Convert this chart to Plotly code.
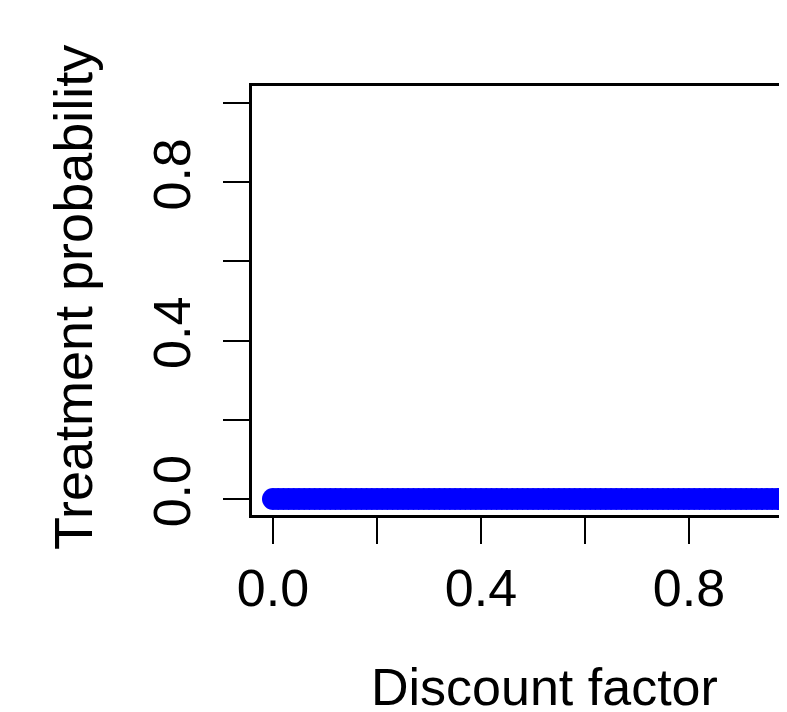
import plotly.graph_objects as go

# Data: discount factor grid and the resulting treatment probability
discount_factor = [
    0.00, 0.01, 0.02, 0.03, 0.04, 0.05, 0.06, 0.07, 0.08, 0.09,
    0.10, 0.11, 0.12, 0.13, 0.14, 0.15, 0.16, 0.17, 0.18, 0.19,
    0.20, 0.21, 0.22, 0.23, 0.24, 0.25, 0.26, 0.27, 0.28, 0.29,
    0.30, 0.31, 0.32, 0.33, 0.34, 0.35, 0.36, 0.37, 0.38, 0.39,
    0.40, 0.41, 0.42, 0.43, 0.44, 0.45, 0.46, 0.47, 0.48, 0.49,
    0.50, 0.51, 0.52, 0.53, 0.54, 0.55, 0.56, 0.57, 0.58, 0.59,
    0.60, 0.61, 0.62, 0.63, 0.64, 0.65, 0.66, 0.67, 0.68, 0.69,
    0.70, 0.71, 0.72, 0.73, 0.74, 0.75, 0.76, 0.77, 0.78, 0.79,
    0.80, 0.81, 0.82, 0.83, 0.84, 0.85, 0.86, 0.87, 0.88, 0.89,
    0.90, 0.91, 0.92, 0.93, 0.94, 0.95, 0.96, 0.97, 0.98, 0.99,
    1.00,
]
treatment_probability = [
    0, 0, 0, 0, 0, 0, 0, 0, 0, 0,
    0, 0, 0, 0, 0, 0, 0, 0, 0, 0,
    0, 0, 0, 0, 0, 0, 0, 0, 0, 0,
    0, 0, 0, 0, 0, 0, 0, 0, 0, 0,
    0, 0, 0, 0, 0, 0, 0, 0, 0, 0,
    0, 0, 0, 0, 0, 0, 0, 0, 0, 0,
    0, 0, 0, 0, 0, 0, 0, 0, 0, 0,
    0, 0, 0, 0, 0, 0, 0, 0, 0, 0,
    0, 0, 0, 0, 0, 0, 0, 0, 0, 0,
    0, 0, 0, 0, 0, 0, 0, 0, 0, 0,
    0,
]

x_major_ticks = [0.0, 0.4, 0.8]
x_major_labels = ["0.0", "0.4", "0.8"]
x_minor_ticks = [0.2, 0.6]
y_major_ticks = [0.0, 0.4, 0.8]
y_major_labels = ["0.0", "0.4", "0.8"]
y_minor_ticks = [0.2, 0.6, 1.0]

FONT = "Liberation Sans, Arial, Helvetica, sans-serif"
FS = 52

# The page body has an 8px margin, so the figure is sized/offset accordingly.
W, H = 779, 704
L, T, B = 244, 78, 197
PW = W - L          # plot width in px
PH = H - T - B      # plot height in px

fig = go.Figure()
fig.add_trace(go.Scatter(
    x=discount_factor, y=treatment_probability, mode="markers",
    marker=dict(color="#0000FF", size=22, line=dict(width=0)),
    showlegend=False, hoverinfo="skip",
))

axis_common = dict(
    showgrid=False, zeroline=False, showline=True, linecolor="black",
    linewidth=2.5, ticks="outside", ticklen=26, tickwidth=2, tickcolor="black",
    tickfont=dict(family=FONT, size=FS, color="black"),
)

fig.update_xaxes(
    **axis_common, range=[-0.0404, 0.98846], mirror=True,
    tickvals=x_major_ticks, ticktext=x_major_labels,
    minor=dict(tickvals=x_minor_ticks, ticks="outside", ticklen=26,
               tickwidth=2, tickcolor="black"),
)
fig.update_yaxes(
    **axis_common, range=[-0.0404, 1.0429], mirror=False,
    tickvals=y_major_ticks, ticktext=y_major_labels, tickangle=-90,
    ticklabelstandoff=12,
    minor=dict(tickvals=y_minor_ticks, ticks="outside", ticklen=26,
               tickwidth=2, tickcolor="black"),
)

# page-pixel helpers (page coords include the 8px body offset)
def px_x(p):
    return (p - 8 - L) / PW

def px_y(p):
    return (T + PH - (p - 8)) / PH

fig.add_annotation(
    text="Discount factor", xref="paper", yref="paper",
    x=px_x(544), y=px_y(687), xanchor="center", yanchor="middle",
    showarrow=False, font=dict(family=FONT, size=FS, color="black"),
)
fig.add_annotation(
    text="Treatment probability", xref="paper", yref="paper", textangle=-90,
    x=px_x(73), y=px_y(298), xanchor="center", yanchor="middle",
    showarrow=False, font=dict(family=FONT, size=54, color="black"),
)

fig.update_layout(
    width=W, height=H,
    margin=dict(l=L, r=0, t=T, b=B, pad=0),
    paper_bgcolor="white", plot_bgcolor="white",
    font=dict(family=FONT, size=FS, color="black"),
)

fig.write_html("out.html")
